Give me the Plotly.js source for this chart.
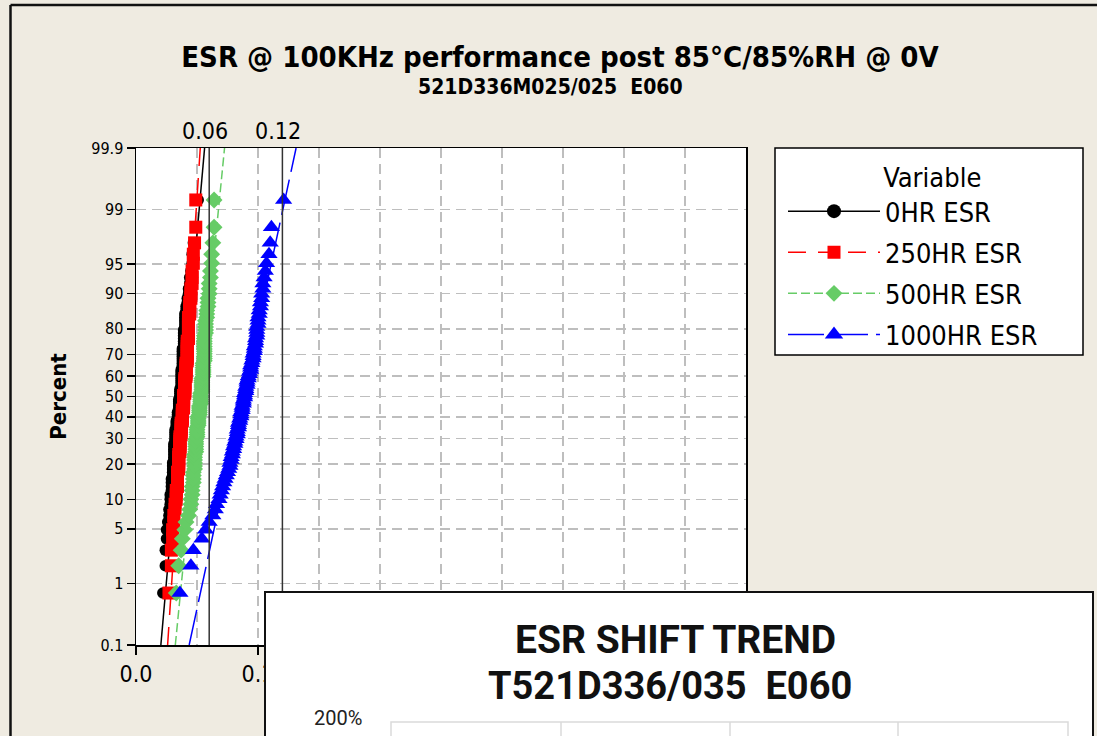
<!DOCTYPE html>
<html><head><meta charset="utf-8">
<script src="https://cdn.plot.ly/plotly-3.0.1.min.js"></script>
<style>html,body{margin:0;padding:0;background:#EFEBE1;}#chart{width:1097px;height:736px;}</style>
</head><body><div id="chart"></div>
<script>
// ---------------- data ----------------
const seriesNames = ['0HR ESR', '250HR ESR', '500HR ESR', '1000HR ESR'];
const percentTicks = [0.1, 1, 5, 10, 20, 30, 40, 50, 60, 70, 80, 90, 95, 99, 99.9];
const percentLabels = ['0.1', '1', '5', '10', '20', '30', '40', '50', '60', '70', '80', '90', '95', '99', '99.9'];
const xTicks = [0, 0.1, 0.2, 0.3, 0.4, 0.5];
// labels 0.2 - 0.5 are covered by the overlaid picture in the reference
const xTickLabels = ['0.0', '0.1', '', '', '', ''];
const refLines = [0.06, 0.12];
const refLabels = ['0.06', '0.12'];

const esr0 = [0.022,0.024,0.024,0.025,0.025,0.026,0.027,0.027,0.028,0.028,
  0.028,0.029,0.029,0.029,0.029,0.030,0.030,0.030,0.030,0.030,
  0.031,0.031,0.031,0.031,0.031,0.031,0.031,0.032,0.032,0.032,
  0.032,0.032,0.032,0.033,0.033,0.033,0.033,0.034,0.034,0.034,
  0.034,0.035,0.035,0.035,0.035,0.035,0.035,0.036,0.036,0.036,
  0.036,0.036,0.037,0.037,0.037,0.037,0.037,0.037,0.037,0.037,
  0.037,0.038,0.038,0.038,0.038,0.038,0.038,0.038,0.038,0.038,
  0.039,0.039,0.039,0.039,0.039,0.039,0.039,0.040,0.040,0.040,
  0.040,0.040,0.041,0.041,0.042,0.042,0.043,0.043,0.044,0.044,
  0.045,0.046,0.046,0.047,0.049,0.051];
const esr250 = [0.027,0.029,0.029,0.030,0.030,0.031,0.031,0.032,0.032,0.033,
  0.033,0.033,0.034,0.034,0.034,0.034,0.034,0.035,0.035,0.035,
  0.035,0.035,0.035,0.036,0.036,0.036,0.036,0.036,0.036,0.036,
  0.037,0.037,0.037,0.037,0.037,0.037,0.038,0.038,0.038,0.038,
  0.038,0.038,0.039,0.039,0.039,0.039,0.039,0.039,0.039,0.040,
  0.040,0.040,0.040,0.040,0.040,0.040,0.040,0.041,0.041,0.041,
  0.041,0.041,0.041,0.041,0.042,0.042,0.042,0.042,0.042,0.042,
  0.042,0.042,0.042,0.043,0.043,0.043,0.043,0.043,0.043,0.043,
  0.043,0.044,0.044,0.044,0.044,0.045,0.045,0.045,0.046,0.046,
  0.046,0.047,0.047,0.048,0.049,0.049];
const esr500 = [0.033,0.035,0.037,0.038,0.040,0.041,0.043,0.044,0.045,0.045,
  0.046,0.046,0.046,0.047,0.047,0.047,0.047,0.048,0.048,0.048,
  0.048,0.048,0.048,0.049,0.049,0.049,0.049,0.049,0.049,0.050,
  0.050,0.050,0.050,0.050,0.051,0.051,0.051,0.051,0.051,0.052,
  0.052,0.052,0.052,0.052,0.053,0.053,0.053,0.053,0.053,0.053,
  0.054,0.054,0.054,0.054,0.054,0.054,0.054,0.055,0.055,0.055,
  0.055,0.055,0.055,0.055,0.056,0.056,0.056,0.056,0.056,0.056,
  0.056,0.056,0.056,0.056,0.056,0.057,0.057,0.057,0.057,0.057,
  0.058,0.058,0.058,0.059,0.059,0.059,0.060,0.060,0.060,0.061,
  0.061,0.062,0.062,0.063,0.064,0.064];
const esr1000 = [0.036,0.045,0.047,0.054,0.057,0.060,0.063,0.065,0.066,0.068,
  0.069,0.070,0.071,0.072,0.073,0.074,0.075,0.076,0.077,0.077,
  0.078,0.078,0.079,0.079,0.080,0.080,0.081,0.081,0.082,0.082,
  0.083,0.083,0.083,0.084,0.084,0.084,0.085,0.085,0.086,0.086,
  0.086,0.087,0.087,0.087,0.088,0.088,0.088,0.089,0.089,0.089,
  0.090,0.090,0.090,0.091,0.091,0.091,0.092,0.092,0.093,0.093,
  0.094,0.094,0.094,0.095,0.095,0.096,0.096,0.096,0.097,0.097,
  0.097,0.098,0.098,0.098,0.099,0.099,0.099,0.099,0.100,0.100,
  0.100,0.101,0.101,0.102,0.102,0.103,0.103,0.104,0.104,0.105,
  0.106,0.107,0.109,0.110,0.111,0.121];

// fitted normal parameters
const fitMean = [0.0383, 0.0393, 0.0524, 0.0874];
const fitSd = [0.0058, 0.00433, 0.00653, 0.01418];

// ---------------- style ----------------
const colors = ['#000000', '#FF0000', '#66CC66', '#0000FF'];
const symbols = ['circle', 'square', 'diamond', 'triangle-up'];
const sizes = [11.5, 13, 13, 15];
const legendSizes = [14, 13, 13, 16];
const dashes = ['solid', '18px,12px', '9px,4px', '36px,8px'];
const FONT = 'DejaVu Sans Condensed, DejaVu Sans, sans-serif';
const GROT = 'Roboto, Liberation Sans, Arial, sans-serif';
const W = 1097, H = 736;
const X = px => px / W, Y = py => 1 - py / H;

// inverse standard normal CDF (probability-scale transform)
function probit(p) {
  const a = [-3.969683028665376e+01, 2.209460984245205e+02, -2.759285104469687e+02, 1.383577518672690e+02, -3.066479806614716e+01, 2.506628277459239e+00];
  const b = [-5.447609879822406e+01, 1.615858368580409e+02, -1.556989798598866e+02, 6.680131188771972e+01, -1.328068155288572e+01];
  const c = [-7.784894002430293e-03, -3.223964580411365e-01, -2.400758277161838e+00, -2.549732539343734e+00, 4.374664141464968e+00, 2.938163982698783e+00];
  const d = [7.784695709041462e-03, 3.224671290700398e-01, 2.445134137142996e+00, 3.754408661907416e+00];
  const pl = 0.02425, ph = 1 - pl;
  let q, r;
  if (p < pl) { q = Math.sqrt(-2 * Math.log(p)); return (((((c[0]*q+c[1])*q+c[2])*q+c[3])*q+c[4])*q+c[5]) / ((((d[0]*q+d[1])*q+d[2])*q+d[3])*q+1); }
  if (p <= ph) { q = p - 0.5; r = q * q; return (((((a[0]*r+a[1])*r+a[2])*r+a[3])*r+a[4])*r+a[5])*q / (((((b[0]*r+b[1])*r+b[2])*r+b[3])*r+b[4])*r+1); }
  q = Math.sqrt(-2 * Math.log(1 - p));
  return -(((((c[0]*q+c[1])*q+c[2])*q+c[3])*q+c[4])*q+c[5]) / ((((d[0]*q+d[1])*q+d[2])*q+d[3])*q+1);
}

const allData = [esr0, esr250, esr500, esr1000];
const zLo = probit(0.001), zHi = probit(0.999);
const traces = [];
// fit lines (beneath the symbols)
allData.forEach((d, k) => {
  traces.push({
    x: [fitMean[k] + fitSd[k] * zLo, fitMean[k] + fitSd[k] * zHi], y: [zLo, zHi],
    mode: 'lines', line: {color: colors[k], width: 1.5, dash: dashes[k]},
    showlegend: false, hoverinfo: 'skip', legendgroup: 'g' + k
  });
});
// data symbols at median-rank plotting positions
allData.forEach((d, k) => {
  const s = d.slice().sort((a, b) => a - b);
  const n = s.length;
  traces.push({
    x: s, y: s.map((v, i) => probit((i + 1 - 0.3) / (n + 0.4))),
    mode: 'markers', marker: {symbol: symbols[k], size: sizes[k], color: colors[k], line: {width: 0}},
    showlegend: false, name: seriesNames[k], legendgroup: 'g' + k
  });
});
// legend entries
allData.forEach((d, k) => {
  traces.push({
    x: [null], y: [null], mode: 'lines+markers', name: seriesNames[k], legendgroup: 'g' + k,
    line: {color: colors[k], width: 1.5, dash: dashes[k]},
    marker: {symbol: symbols[k], size: legendSizes[k], color: colors[k], line: {width: 0}}
  });
});

const gridStyle = {gridcolor: '#BEBEBE', gridwidth: 1.6, griddash: '10px,6px'};
const shapes = [
  // outer frame
  {type: 'line', xref: 'paper', yref: 'paper', x0: X(10.5), x1: X(10.5), y0: -0.01, y1: Y(5), line: {color: '#111', width: 2.5}, layer: 'below'},
  {type: 'line', xref: 'paper', yref: 'paper', x0: X(10.5), x1: 1.01, y0: Y(5), y1: Y(5), line: {color: '#111', width: 2.5}, layer: 'below'}
];
refLines.forEach(v => shapes.push({type: 'line', xref: 'x', yref: 'y domain', x0: v, x1: v, y0: 0, y1: 1, line: {color: '#333', width: 1.5}, layer: 'above'}));
// legend box
shapes.push({type: 'rect', xref: 'paper', yref: 'paper', x0: X(775), x1: X(1083), y0: Y(355), y1: Y(148), fillcolor: '#FFFFFF', line: {color: '#000', width: 1.5}, layer: 'above'});
// overlaid second chart (ESR SHIFT TREND)
shapes.push({type: 'rect', xref: 'paper', yref: 'paper', x0: X(265), x1: X(1093), y0: -0.05, y1: Y(592), fillcolor: '#FFFFFF', line: {color: '#111', width: 2}, layer: 'above'});
shapes.push({type: 'rect', xref: 'paper', yref: 'paper', x0: X(391), x1: X(1068), y0: -0.05, y1: Y(722), line: {color: '#DADADA', width: 1.5}, layer: 'above'});
[561, 730, 898].forEach(px => shapes.push({type: 'line', xref: 'paper', yref: 'paper', x0: X(px), x1: X(px), y0: -0.05, y1: Y(722), line: {color: '#DADADA', width: 1.5}, layer: 'above'}));

const annotations = [];
const ann = (o) => annotations.push(Object.assign({xref: 'paper', yref: 'paper', showarrow: false, xanchor: 'center', yanchor: 'middle'}, o));
refLines.forEach((v, i) => ann({xref: 'x', x: v, y: Y(131), text: refLabels[i], xshift: -4, font: {family: FONT, size: 23, color: '#000'}}));
ann({x: X(550), y: Y(87), text: '<b>521D336M025/025\u00a0 E060</b>', font: {family: FONT, size: 21, color: '#000'}});
ann({x: X(675), y: Y(640), text: '<b>ESR SHIFT TREND</b>', font: {family: GROT, size: 39, color: '#111'}});
ann({x: X(670), y: Y(686), text: '<b>T521D336/035\u00a0 E060</b>', font: {family: GROT, size: 38, color: '#111'}});
ann({x: X(338), y: Y(718), text: '200%', font: {family: GROT, size: 20, color: '#222'}});

const layout = {
  width: W, height: H,
  margin: {l: 0, r: 0, t: 0, b: 0},
  paper_bgcolor: '#EFEBE1', plot_bgcolor: '#FFFFFF',
  title: {text: '<b>ESR @ 100KHz performance post 85°C/85%RH @ 0V</b>', font: {family: FONT, size: 29, color: '#000'},
          x: X(560), xanchor: 'center', y: Y(57), yanchor: 'middle', yref: 'container'},
  xaxis: Object.assign({
    domain: [X(136), X(746)], range: [0, 0.5], tickmode: 'array', tickvals: xTicks, ticktext: xTickLabels,
    showline: true, mirror: true, linecolor: '#000', linewidth: 1.5,
    ticks: 'outside', ticklen: 8, tickwidth: 1.5, tickcolor: '#000',
    tickfont: {family: FONT, size: 23, color: '#000'},
    showgrid: true, zeroline: false,
    minor: Object.assign({dtick: 0.05, tick0: 0, showgrid: true, ticks: ''}, gridStyle)
  }, gridStyle),
  yaxis: Object.assign({
    domain: [Y(645), Y(148)], range: [zLo, zHi], tickmode: 'array',
    tickvals: percentTicks.map(p => probit(p / 100)), ticktext: percentLabels,
    showline: true, mirror: true, linecolor: '#000', linewidth: 1.5,
    ticks: 'outside', ticklen: 8, tickwidth: 1.5, tickcolor: '#000',
    tickfont: {family: FONT, size: 16, color: '#000'},
    showgrid: true, zeroline: false,
    title: {text: '<b>Percent</b>', font: {family: FONT, size: 22, color: '#000'}, standoff: 18}
  }, gridStyle),
  showlegend: true,
  legend: {
    x: X(783), y: Y(152), xanchor: 'left', yanchor: 'top',
    bgcolor: 'rgba(0,0,0,0)', borderwidth: 0,
    font: {family: FONT, size: 27, color: '#000'},
    title: {text: '\u00a0\u00a0\u00a0\u00a0\u00a0Variable', side: 'top center', font: {family: FONT, size: 27, color: '#000'}},
    itemwidth: 92, tracegroupgap: 3, traceorder: 'grouped'
  },
  shapes: shapes,
  annotations: annotations
};

Plotly.newPlot('chart', traces, layout, {displayModeBar: false, staticPlot: true});
</script></body></html>
